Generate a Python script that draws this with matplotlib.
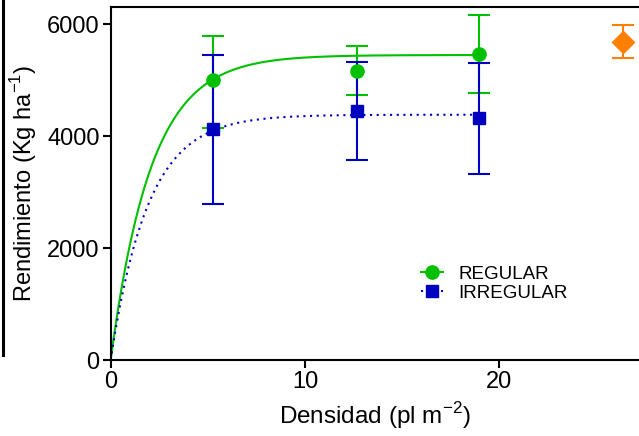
import numpy as np
import matplotlib
matplotlib.use("Agg")
import matplotlib.pyplot as plt
from matplotlib.lines import Line2D

plt.rcParams['font.family'] = ['Liberation Sans', 'DejaVu Sans']

# densities (pl m-2)
dens = [5.28, 12.66, 18.97]
dens_extra = [26.35]

# REGULAR
reg_y = [5000, 5166, 5464]
reg_hi = [5791, 5613, 6166]
reg_lo = [4150, 4726, 4768]

# IRREGULAR
irr_y = [4119, 4446, 4321]
irr_hi = [5440, 5316, 5309]
irr_lo = [2786, 3577, 3327]

# extra point (orange)
ext_y = [5684]
ext_hi = [5982]
ext_lo = [5387]

# fitted curves: one-phase association, Y = Ymax * (1 - exp(-K x))
reg_ymax, reg_k = 5446, 0.48
irr_ymax, irr_k = 4380, 0.52

green = '#00C000'
blue = '#0000C0'
orange = '#FF8000'

fig = plt.figure(figsize=(6.39, 4.36), dpi=100)
ax = fig.add_axes([0.1732, 0.1743, 0.8268, 0.8097])

xs = np.linspace(0, 18.97, 400)
ax.plot(xs, reg_ymax * (1 - np.exp(-reg_k * xs)), color=green, lw=1.5, zorder=2)
ax.plot(xs, irr_ymax * (1 - np.exp(-irr_k * xs)), color=blue, lw=1.5,
        linestyle=(0, (1, 2.2)), zorder=2)


def err(y, hi, lo):
    y = np.array(y)
    return [y - np.array(lo), np.array(hi) - y]


ax.errorbar(dens, reg_y, yerr=err(reg_y, reg_hi, reg_lo), fmt='none',
            ecolor=green, elinewidth=1.5, capsize=8, capthick=1.5, zorder=3)
ax.errorbar(dens, irr_y, yerr=err(irr_y, irr_hi, irr_lo), fmt='none',
            ecolor=blue, elinewidth=1.5, capsize=8, capthick=1.5, zorder=4)
ax.errorbar(dens_extra, ext_y, yerr=err(ext_y, ext_hi, ext_lo), fmt='none',
            ecolor=orange, elinewidth=1.5, capsize=8, capthick=1.5, zorder=4)

ax.plot(dens, reg_y, 'o', color=green, ms=9.5, zorder=5)
ax.plot(dens, irr_y, 's', color=blue, ms=9, zorder=5)
ax.plot(dens_extra, ext_y, 'D', color=orange, ms=11, zorder=5)

ax.set_xlim(0, 27.19)
ax.set_ylim(0, 6304)
ax.set_xticks([0, 10, 20])
ax.set_yticks([0, 2000, 4000, 6000])
ax.spines['right'].set_visible(False)
for s in ['left', 'bottom', 'top']:
    ax.spines[s].set_linewidth(1.5)
ax.tick_params(direction='out', length=6, width=1.5, labelsize=17, pad=2)

ax.set_xlabel('Densidad (pl m$^{\\mathregular{-2}}$)', fontsize=17.5, labelpad=5)
ax.set_ylabel('Rendimiento (Kg ha$^{\\mathregular{-1}}$)', fontsize=17, labelpad=6)

handles = [
    Line2D([], [], color=green, lw=1.5, marker='o', ms=9.5),
    Line2D([], [], color=blue, lw=1.5, linestyle=(0, (1, 2.2)), marker='s', ms=9),
]
ax.legend(handles, ['REGULAR', 'IRREGULAR'], loc='upper left',
          bbox_to_anchor=(0.555, 0.315), frameon=False, fontsize=13.5,
          handlelength=1.2, handletextpad=0.8, labelspacing=0.1)

# stray vertical line at the left edge
fig.add_artist(Line2D([0.004, 0.004], [1.0, 0.186], color='black', lw=2.2,
                      transform=fig.transFigure))

fig.savefig('out.png', dpi=100)
